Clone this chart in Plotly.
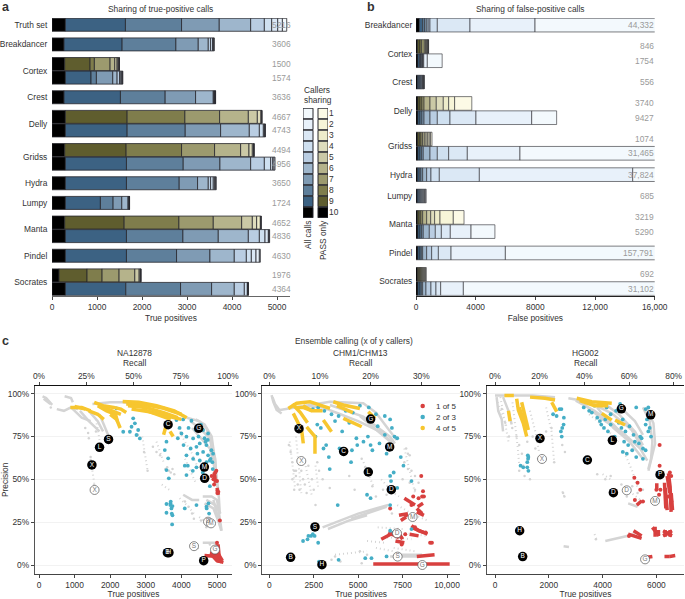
import plotly.graph_objects as go

W, H = 685, 599
FONT = "Liberation Sans"
FS = 8.4
TXT = "#333333"
GRAYTXT = "#9a9a9a"

levels = [10, 9, 8, 7, 6, 5, 4, 3, 2, 1]
blue_palette = ["#000000", "#3c6283", "#5e7f9b", "#7f9bb4", "#9eb6cc", "#b9cde2", "#cfe0f0", "#dbe8f5", "#e8f1fa", "#f3f9fd"]
olive_palette = ["#000000", "#5f5d2e", "#7f7d4c", "#9c9a6e", "#b5b38b", "#cbc9a6", "#dedcbc", "#eeecca", "#f7f5d8", "#fcfae6"]

# Panel a: cumulative true positives by callers sharing (10 .. 1)
a_truth_all = [297, 1632, 2879, 3717, 4415, 4719, 4882, 5016, 5120, 5216]
a_breakdancer_all = [267, 1558, 2753, 3250, 3473, 3525, 3570, 3585, 3595, 3606]
a_cortex_pass = [282, 846, 942, 1291, 1395, 1447, 1470, 1485, 1495, 1500]
a_cortex_all = [297, 868, 987, 1350, 1447, 1500, 1530, 1550, 1565, 1574]
a_crest_all = [267, 1521, 2515, 3191, 3584, 3600, 3615, 3625, 3630, 3636]
a_delly_pass = [297, 1670, 2953, 3725, 4363, 4563, 4645, 4655, 4662, 4667]
a_delly_all = [297, 1670, 2961, 3747, 4385, 4608, 4697, 4720, 4735, 4743]
a_gridss_pass = [282, 1647, 2879, 3613, 4192, 4378, 4452, 4480, 4488, 4494]
a_gridss_all = [297, 1655, 2916, 3732, 4415, 4719, 4860, 4905, 4935, 4956]
a_hydra_all = [297, 1655, 2827, 3235, 3473, 3525, 3584, 3610, 3635, 3650]
a_lumpy_all = [297, 1076, 1358, 1551, 1690, 1710, 1718, 1720, 1722, 1724]
a_manta_pass = [282, 1603, 2820, 3584, 4215, 4452, 4548, 4630, 4645, 4652]
a_manta_all = [297, 1655, 2909, 3695, 4363, 4608, 4734, 4808, 4825, 4836]
a_pindel_all = [297, 1655, 2768, 3510, 4051, 4319, 4430, 4534, 4608, 4630]
a_socrates_pass = [156, 779, 1113, 1491, 1840, 1937, 1960, 1970, 1973, 1976]
a_socrates_all = [297, 1640, 2857, 3547, 4051, 4274, 4341, 4355, 4360, 4364]

# Panel b: cumulative false positives by callers sharing (10 .. 1)
b_breakdancer_all = [223, 447, 570, 693, 820, 939, 1430, 3620, 7979, 44332]
b_cortex_pass = [110, 268, 380, 560, 640, 700, 760, 800, 830, 846]
b_cortex_all = [130, 250, 300, 350, 400, 440, 480, 520, 760, 1754]
b_crest_all = [100, 190, 260, 330, 390, 440, 480, 515, 540, 556]
b_delly_pass = [130, 270, 400, 540, 940, 1360, 1830, 2190, 2590, 3740]
b_delly_all = [130, 270, 400, 540, 940, 1430, 2280, 4020, 7755, 9427]
b_gridss_pass = [120, 240, 340, 440, 560, 680, 790, 890, 980, 1074]
b_gridss_all = [130, 270, 380, 490, 940, 1430, 2190, 3440, 6970, 31465]
b_hydra_all = [110, 223, 330, 447, 715, 1005, 1564, 4246, 14527, 37824]
b_lumpy_all = [70, 140, 220, 290, 360, 430, 500, 570, 630, 685]
b_manta_pass = [110, 220, 330, 447, 715, 985, 1250, 1610, 2500, 3219]
b_manta_all = [130, 270, 380, 490, 894, 1296, 1700, 2300, 3690, 5290]
b_pindel_all = [130, 270, 360, 447, 715, 1050, 1500, 2350, 5990, 157791]
b_socrates_pass = [100, 190, 260, 330, 390, 450, 510, 570, 640, 692]
b_socrates_all = [130, 270, 360, 447, 670, 1005, 1340, 1654, 3174, 31102]

groups_a = [
    ("Truth set", [("all", a_truth_all)]),
    ("Breakdancer", [("all", a_breakdancer_all)]),
    ("Cortex", [("pass", a_cortex_pass), ("all", a_cortex_all)]),
    ("Crest", [("all", a_crest_all)]),
    ("Delly", [("pass", a_delly_pass), ("all", a_delly_all)]),
    ("Gridss", [("pass", a_gridss_pass), ("all", a_gridss_all)]),
    ("Hydra", [("all", a_hydra_all)]),
    ("Lumpy", [("all", a_lumpy_all)]),
    ("Manta", [("pass", a_manta_pass), ("all", a_manta_all)]),
    ("Pindel", [("all", a_pindel_all)]),
    ("Socrates", [("pass", a_socrates_pass), ("all", a_socrates_all)]),
]
groups_b = [
    ("Breakdancer", [("all", b_breakdancer_all)]),
    ("Cortex", [("pass", b_cortex_pass), ("all", b_cortex_all)]),
    ("Crest", [("all", b_crest_all)]),
    ("Delly", [("pass", b_delly_pass), ("all", b_delly_all)]),
    ("Gridss", [("pass", b_gridss_pass), ("all", b_gridss_all)]),
    ("Hydra", [("all", b_hydra_all)]),
    ("Lumpy", [("all", b_lumpy_all)]),
    ("Manta", [("pass", b_manta_pass), ("all", b_manta_all)]),
    ("Pindel", [("all", b_pindel_all)]),
    ("Socrates", [("pass", b_socrates_pass), ("all", b_socrates_all)]),
]

# Panel c: (true positives, precision %); None separates strands of calls
# NA12878
na_gray_band_x = [100, 200, 370, None, 130, 320, None, 720, 900, 950, None, 500, 700, 900, 1100, None, 900, 1200, 1450, None, 1150, 1400, 1700, None, 1400, 1650, 1800, None, 1700, 1850, 1980, None,
                  1500, 2000, 2350, 2700, None, 4150, 4500, 4700, 4820, 4900, 4960, None, 4400, 4650, 4850, 4950, 5000, 5050, 5080, None, 4250, 4500, 4800, 4950, 4990, None,
                  4050, 4300, 4500, None, 4600, 4850, 5000, 5100, 5130, None, 4650, 4900, 5050, 5120, None, 4900, 5000, 5100, None, 4600, 4950, None, 4700, 4950, 5100, None, 4300, 4800, 4950, 5050]
na_gray_band_y = [98.5, 97.5, 93.5, None, 97, 94, None, 98.5, 97.5, 95, None, 91, 90, 92, 91, None, 92, 86, 84, None, 90, 84, 78, None, 90, 84, 78, None, 88, 80, 74, None,
                  94, 95, 95, 94, None, 86, 84, 80, 72, 62, 52, None, 85, 82, 75, 60, 48, 40, 30, None, 84, 80, 74, 62, 48, None,
                  41, 38, 38, None, 40, 40, 38, 25, 20, None, 36, 33, 25, 20, None, 38, 30, 22, None, 13, 13, None, 38, 35, 30, None, 80, 68, 55, 42]
na_gray_sparse_x = [1450, 1550, None, 1600, 1650, 1700, None, 2900, 3050, None, 3300, 3500, None, 3450, 3600, 3720, None, 3900, 4100, 4300, 4500, None, 4100, 4400, None, 3950, 4200, 4350, None, 4300, 4500, None, 4500, 4700, 4800]
na_gray_sparse_y = [62, 48, None, 85, 80, 73, None, 75, 55, None, 72, 60, None, 47, 45, 43, None, 80, 72, 65, 55, None, 62, 48, None, 39, 34, 30, None, 13, 9, None, 28, 25, 22]
na_gray_dots_x = [330, 1450, 1550, 1450, 1600, 2780, 2950, 3050, 3550, 3700, 3300, 3200, 3400, 4100, 4200, 4300, 4350, 4550, 4700, 4800, 3600, 3650, 3750, 3800, 1400, 1300, 1380]
na_gray_dots_y = [92, 63, 47, 61, 78, 76, 66, 55, 56, 54, 66, 69, 64, 37, 34, 30, 27, 26, 22, 12, 57, 55, 56, 53, 74, 80, 77]
na_yellow_band_x = [880, 1200, 1450, None, 1000, 1300, None, 1400, 1650, 1820, None, 1550, 1800, 2100, 2300, 2450, None, 1650, 1900, 2150, 2200, None, 1750, 2050, 2300, None, 2000, 2180, 2280, None,
                    2350, 2800, 3300, 3800, 4150, None, 2450, 3000, 3500, 4000, None, 2500, 3000, 3500, 3900, None, 2600, 3100, 3600, 4000, None, 2900, 3300, 3700, None, 3500, 3580, None, 3680, 3770]
na_yellow_band_y = [92, 92, 90, None, 92.5, 91, None, 90, 88, 85, None, 95, 93, 92, 91, 89, None, 93, 90, 88, 84, None, 92.5, 90, 88, None, 88, 85, 80, None,
                    95.5, 95, 93, 90, 86, None, 94, 93.5, 91.5, 88, None, 93, 92, 89, 86, None, 91, 89.5, 87, 85, None, 91, 88, 85, None, 76, 82, None, 78, 75]
na_blue_x = [2178, 2646, 2693, 2600, 2786, 2553, 2740, 2833, 2366, 3581, 3534, 3628, 3581, 3647, 3581, 3693, 3749, 3581, 3749, 3740, 4095, 4423, 4703, 4778,
             3862, 4049, 4282, 4610, 4750, 4002, 4142, 4329, 4516, 4703, 4843, 4423, 4610, 4750, 4890, 4142, 4329, 4516, 4797, 4095, 4423, 4703, 4142,
             3950, 4200, 4400, 4650, 4550, 4680, 4820, 4260, 4480, 4740, 4450, 4870, 4320, 4600, 4880, 4060, 3900, 4180, 3720, 4710, 4760, 4800, 3700, 3690, 3730]
na_blue_y = [91.4, 85.6, 82.7, 80.7, 78.8, 77.8, 75.9, 73.9, 77.8, 72, 67.1, 62.3, 55.4, 50.6, 35.6, 36, 34.4, 30.5, 29, 23.7, 33, 35, 34, 30,
             84.6, 85, 84.2, 78.8, 76.8, 76.8, 74.9, 73.9, 71, 70, 67, 69, 66, 64, 65, 64, 62, 61, 61, 58, 57, 60, 52.5,
             80, 80, 79, 74, 82, 72, 62, 68, 75, 73, 65, 60, 55, 54, 56, 70, 74, 58, 33, 33, 36, 46, 37, 35, 30]
na_red_band_x = [4650, 4900, 5020, None, 4950, 5000, None, 5000, 5030, None, 5030, 5060, None, 4850, 5000, 5180, None, 4800, 5050, 5150, None, 4880, 4960, 5110, None, 4970, 5060, 5130, None, 4950, 5020, 5110, None, 4890, 4980, None, 4920, 4960, None, 4990, 5060, None, 5000, 5040]
na_red_band_y = [5.5, 5.5, 5, None, 11, 4, None, 12, 3, None, 12, 5, None, 6, 2.5, 1.5, None, 7, 6, 2.5, None, 8, 7, 2, None, 9, 4, 1.5, None, 6, 2.5, 2, None, 52, 52, None, 54, 48, None, 44, 42, None, 45, 41]
na_red_x = [4950, 4900, 5000, 4920, 4850, 4980, 5010, 5080, 5000, 4900]
na_red_y = [54, 50, 49, 47, 52, 55, 42, 26, 13, 6]

# CHM1/CHM13
chm_gray_band_x = [130, 225, 413, 694, None, 180, 320, 600, None, 600, 1163, 2200, 3414, 5290, 6000, 6600, 7166, None, 3414, 5290, 6791, 7072, None, 2000, 3000, 4000, 5000, 6200, 7000, None,
                   3000, 4000, 5000, 6000, 6700, None, 3300, 4500, 5500, None, 4600, 5700, 6600, None, 6800, 7600, 8400, None, 7000, 7800, 8600, None, 5100, 6000, 6800]
chm_gray_band_y = [99.2, 95.3, 90.5, 88.5, None, 98, 94, 90, None, 90.5, 91.4, 93, 95.3, 94.4, 89, 80.7, 73, None, 93.4, 86.6, 74.9, 71, None, 93, 92, 88, 84, 78, 71, None,
                   22, 26, 30, 33, 35, None, 21, 26, 29, None, 27, 31, 34, None, 5, 5, 5, None, 6, 6, 6, None, 87, 79, 72]
chm_gray_sparse_x = [1150, 1300, 1450, None, 1500, 1650, 1800, None, 2000, 2200, 2400, None, 2600, 2750, None, 3700, 5500, None, 5300, 5900, None, 6300, 7000, 7300, None, 7600, 8000, 8200, None, 6100, 7500, None, 5500, 6500, None, 7400, 8800, None, 6000, 7000, None, 6400, 7100, 8000, None, 7000, 7600, 8200, None, 7200, 8000, 8900]
chm_gray_sparse_y = [72, 60, 45, None, 75, 60, 42, None, 60, 50, 40, None, 58, 45, None, 6, 8, None, 60, 45, None, 50, 42, 40, None, 68, 50, 42, None, 22, 21, None, 14, 13, None, 19, 17, None, 10, 8, None, 16, 16, 15, None, 10, 9, 8, None, 35, 30, 26]
chm_gray_dots_x = [1100, 1200, 1300, 1400, 1500, 1600, 1700, 1500, 1300, 1400, 1800, 1900, 2000, 2100, 2200, 2400, 2500, 2600, 2700, 2800, 3000, 3400, 4100, 4500, 4800, 5200, 5400, 5800, 6000, 6400, 6600, 7500, 7800, 7900, 8000, 8200, 8400, 8200, 3700, 3500, 4000, 5200, 5500, 5100, 7700, 7800, 7600, 7900, 6900]
chm_gray_dots_y = [70, 66, 60, 55, 52, 47, 44, 55, 50, 44, 55, 50, 47, 42, 58, 50, 44, 35, 60, 55, 50, 45, 68, 52, 44, 62, 57, 46, 40, 44, 41, 50, 56, 64, 55, 52, 48, 44, 5, 3, 2, 1, 6, 8, 68, 65, 60, 48, 30]
chm_yellow_band_x = [1070, 1540, 2290, 3414, None, 1350, 1820, 1913, None, 2100, 2570, 2570, None, 1300, 1750, 2150, None, 3600, 4165, 5100, None, 3800, 4300, 4700, None, 4165, 4730, 5200, None, 3040, 3500, None, 5570, 5950, None, 1900, 2400, 3000, None, 1500, 1900, 2400]
chm_yellow_band_y = [91.4, 94.4, 95.3, 91.4, None, 88.5, 78.8, 71, None, 80.7, 75, 65, None, 94, 89, 83, None, 95.3, 93.4, 91.4, None, 93, 91, 89, None, 85.6, 82.7, 80.7, None, 84.6, 77.8, None, 89.5, 85.6, None, 93, 90, 90, None, 92, 92, 90]
chm_blue_x = [2450, 2750, 3100, 3500, 3900, 4300, 4700, 5100, 5600, 6000, 6500, 6800, 7050, 2700, 2900, 3200, 3700, 4100, 4500, 4900, 5300, 5700, 6100, 6500, 6900, 7200,
              2600, 3050, 3350, 3950, 4250, 4650, 4950, 5550, 5800, 6200, 6600, 7400, 7550, 7000, 3400, 4600, 6800, 6850, 7200, 8000, 5500, 5700, 3850, 6800, 1900, 2150, 2200, 2350, 2450, 2550, 2750, 2800, 3900, 5400, 5750, 6600, 6800, 7000, 8000]
chm_blue_y = [91, 92, 90, 88, 87, 90, 89, 93, 92, 88, 87, 85, 75, 82, 80, 70, 84, 78, 83, 74, 72, 70, 81, 76, 80, 74,
              75, 68, 63, 68, 66, 67, 70, 75, 67, 71, 65, 63, 58, 54, 56, 60, 52, 49, 45, 49, 41, 39, 35, 35, 14, 15, 17, 17, 18, 17, 13, 2, 3, 4, 4, 5, 20, 19, 21]
chm_red_band_x = [5850, 6500, 7200, 8000, 8800, 9500, 10150, None, 8300, 8800, 9300, None, 6300, 6700, 7200, 7500, None, 6700, 7300, None, 7100, 7600, None, 8000, 8400, 8700, None, 7900, 8400, None, 8000, 8500, 8900, None, 7300, 7800, None, 7400, 7700, None, 8300, 8700, None, 8300, 8600, None, 7600, 8200, None, 8350, 8650]
chm_red_band_y = [0.6, 0.6, 0.7, 0.9, 1, 0.8, 0.6, None, 5, 5.5, 6, None, 15, 17, 20, 15, None, 19, 16, None, 14, 13, None, 23, 20, 19, None, 18, 17, None, 22, 20, 18, None, 29, 30, None, 26, 28, None, 31, 29, None, 33, 30, None, 39, 35, None, 34, 36]
chm_red_x = [8650, 8550, 8600, 8700, 8400, 8100, 8000, 9050, 9150, 7450, 7300, 6800, 7650, 8200, 8800, 7700]
chm_red_y = [43, 52, 40, 40, 39, 40, 35, 13, 13, 12, 18, 33, 18, 22, 19, 29]

# HG002
hg_gray_band_x = [0, 600, 1400, 2232, None, 60, 120, 250, 300, None, 300, 500, 620, None, 2728, 3472, 4340, 5084, 5456, None, 3000, 3700, 4400, 5000, None, 3300, 4000, 4700, 5400, 5660, None, 4000, 4600, 5200, 5500, None, 3800, 4400, 5000, 5500, None, 4800, 5200, 5500, None, 5642, 5890, 5952, 5704, None, 5500, 5750, 5850, 5800, 5700, None, 4100, 4700, 5200, None, 2550, 2750, None, 4950, 5300]
hg_gray_band_y = [99, 99, 99, 98, None, 98, 90, 85, 78, None, 98, 90, 82, None, 97.3, 95.3, 88.5, 78.8, 69, None, 96, 90, 82, 72, None, 94, 85, 78, 68, 61, None, 95, 88, 78, 70, None, 92, 80, 72, 62, None, 90, 84, 76, None, 91.4, 82.7, 71, 55, None, 92, 84, 72, 62, 56, None, 14, 16, 18, None, 11, 10.5, None, 36, 34]
hg_gray_sparse_x = [100, 250, 450, None, 200, 350, 500, None, 650, 750, 850, 900, None, 1300, 1500, 1650, None, 1900, 2100, 2200, None, 3700, 3800, None, 2500, 2580, None, 5000, 5400, None, 4800, 5100, 5300, None, 4000, 4300, None, 3500, 4100, 4600]
hg_gray_sparse_y = [95, 88, 80, None, 98, 85, 72, None, 95, 82, 68, 58, None, 90, 78, 65, None, 92, 78, 60, None, 18, 14, None, 43, 40, None, 43, 38, None, 66, 55, 45, None, 53, 50, None, 88, 80, 72]
hg_gray_dots_x = [250, 380, 520, 640, 800, 900, 1000, 1050, 1200, 1400, 1500, 1600, 1750, 1900, 2100, 2200, 2500, 2600, 3800, 4100, 4300, 4700, 4900, 5100, 5300, 5500, 2530, 2580, 3750, 900, 1100, 1300]
hg_gray_dots_y = [91, 83, 75, 80, 75, 70, 65, 58, 72, 75, 68, 62, 60, 78, 80, 60, 70, 66, 53, 50, 52, 47, 40, 46, 42, 44, 42, 40, 15, 55, 52, 50]
hg_yellow_band_x = [350, 700, None, 806, 868, 1054, 1178, None, 992, 1116, 1240, None, 900, 1050, 1180, None, 500, 560, None, 1302, 1860, 2232, None, 2108, 2294, None, 3038, 3596, 4340, None, 3150, 3700, 4200, None, 3968, 4340, None, 4464, 4836]
hg_yellow_band_y = [99, 99, None, 97, 90.5, 82.7, 75, None, 95, 86.6, 78.8, None, 92, 85, 79, None, 90, 84, None, 98, 97.3, 96.3, None, 95, 89.5, None, 97.3, 95.3, 94.4, None, 96, 93, 93, None, 88.5, 84.6, None, 84.6, 81.7]
hg_blue_x = [950, 1050, 1200, 1240, 1200, 1220, 1230, 1240, 2400, 2470, 2160, 2560, 2550, 2500, 2450, 2480, 2290, 3500, 3700, 3800, 3950, 4050, 4150, 4300, 4500, 4650, 4750, 4850, 5000, 5150, 5250, 5400, 5350, 5450, 3600, 3900, 4100, 4200, 4450, 4600, 4800, 4950, 5100, 5200, 5500, 5600, 5650, 5700, 5750, 5800, 5600, 5700, 5600, 4750, 4900, 4700, 5250, 5500, 3300, 4300]
hg_blue_y = [58, 57, 57, 63, 60, 64, 62, 55, 91, 91, 88, 86, 82, 80, 78, 75, 87, 90, 93, 86, 82, 80, 92, 88, 90, 94, 85, 78, 81, 76, 92, 75, 71, 74, 89, 84, 85, 78, 75, 83, 72, 70, 67, 72, 68, 91, 85, 92, 80, 75, 82, 78, 67, 66, 65, 80, 63, 62, 92, 82]
hg_red_band_x = [6448, 6510, 6547, None, 6330, 6400, None, 6300, 6350, None, 6550, 6600, None, 6400, 6500, None, 6014, 6014, None, 5270, 5456, None, 5850, 6100, None, 5952, 5952, None, 6076, 6076, None, 6250, 6580, None, 6250, 6580, None, 6324, 6324, None, 6510, 6510, None, 4950, 5450, None, 5150, 5450, None, 5660, 5850, None, 6300, 6500, None, 6500, 6700]
hg_red_band_y = [53.5, 45.7, 31, None, 45, 32, None, 48, 33, None, 42, 32, None, 52, 42, None, 47.7, 43.8, None, 35, 37.5, None, 22, 17, None, 22.4, 16.5, None, 20.5, 17, None, 20, 17, None, 17, 20, None, 20.4, 16.5, None, 20.4, 16.5, None, 18, 15.5, None, 20, 17, None, 4.5, 5, None, 5, 5, None, 5, 5.5]
hg_red_x = [6120, 6550, 6500, 6120, 6560, 6450, 5300, 5180, 5400, 6000, 6150, 6100, 4980, 5500, 5200]
hg_red_y = [70, 52, 54, 58, 37, 40, 48, 51, 44, 44, 44, 41, 17, 37, 38]

# Caller labels: (x, precision, letter); filled = PASS only, open = all calls
na_pass_labels = ["C", "G", "S", "L", "X", "M", "D", "B", "H", "P"]
na_pass_x = [3626, 4486, 1953, 1701, 1486, 4645, 4654, 3606, 3650, 4626]
na_pass_y = [81.9, 79.8, 73.3, 68.7, 58.4, 57.2, 50.6, 7.2, 7.2, 2.5]
na_all_labels = ["X", "D", "M", "S", "G"]
na_all_x = [1561, 4748, 4832, 4355, 4944]
na_all_y = [43.8, 25.3, 24.3, 11, 9]
chm_pass_labels = ["G", "X", "M", "C", "L", "D", "S", "B", "H"]
chm_pass_x = [5704, 1670, 6773, 4184, 5572, 6867, 2570, 1200, 2964]
chm_pass_y = [85.2, 79.6, 68.9, 66.3, 54.3, 44, 22.2, 4.5, 0.2]
chm_all_labels = ["X", "M", "D", "S", "G"]
chm_all_x = [1801, 8068, 7186, 7223, 8612]
chm_all_y = [60.7, 28, 18.5, 4.9, 0]
hg_pass_labels = ["G", "M", "X", "L", "C", "P", "D", "H", "B"]
hg_pass_x = [4698, 5789, 1673, 4364, 3434, 6136, 4401, 917, 1029]
hg_pass_y = [91.2, 87.7, 73.9, 72.8, 61.3, 52.7, 42.2, 20, 4.9]
hg_all_labels = ["X", "D", "M", "G"]
hg_all_x = [1748, 4897, 5950, 5579]
hg_all_y = [61.9, 43.6, 37.4, 3.3]

GRAY, RED, BLUE, YELLOW = "#d4d4d4", "#d8403f", "#45aec6", "#f7c62f"


def px_x(p):
    return p / W


def px_y(p):
    return 1 - p / H


fig = go.Figure()
layout = dict(width=W, height=H, margin=dict(l=0, r=0, t=0, b=0), autosize=False,
              paper_bgcolor="white", plot_bgcolor="white", showlegend=False,
              barmode="overlay", font=dict(family=FONT, size=FS, color=TXT),
              hovermode=False, template="none")
annotations = []


def text(x, y, s, size=FS, color=TXT, anchor="center", bold=False, angle=0):
    annotations.append(dict(xref="paper", yref="paper", x=px_x(x), y=px_y(y), text=f"<b>{s}</b>" if bold else s,
                            showarrow=False, font=dict(size=size, color=color, family=FONT),
                            xanchor=anchor, yanchor="middle", textangle=angle, align=anchor))


def stacked(groups, x_name, y_name, gap, label_px, lw):
    pos = 0
    rows, names, centers = [], [], []
    for name, bars in groups:
        start = pos
        for kind, cum in bars:
            rows.append((pos + 0.5, kind, cum))
            pos += 1
        centers.append((start + pos) / 2)
        names.append(name)
        pos += gap
    pos -= gap
    for i in range(10):
        base = [r[2][i - 1] if i else 0 for r in rows]
        width = [r[2][i] - b for r, b in zip(rows, base)]
        col = [(blue_palette if r[1] == "all" else olive_palette)[i] for r in rows]
        fig.add_trace(go.Bar(orientation="h", y=[r[0] for r in rows], x=width, base=base, width=0.96,
                             marker=dict(color=col, line=dict(color="#26262c", width=lw)),
                             xaxis=x_name, yaxis=y_name))
    for r in rows:
        total = r[2][-1]
        annotations.append(dict(xref="paper", yref=y_name, x=px_x(label_px), y=r[0],
                                text=f"{total:,}" if total >= 10000 else str(total), showarrow=False,
                                xanchor="right", yanchor="middle", font=dict(size=FS, color=GRAYTXT, family=FONT)))
    return pos, centers, names


# Panel a
tot, centers, names = stacked(groups_a, "x", "y", 0.45, 292.5, 0.8)
layout["xaxis"] = dict(domain=[px_x(52), px_x(290)], range=[0, 5289], tickvals=[0, 1000, 2000, 3000, 4000, 5000],
                       showgrid=False, zeroline=False, showline=True, linecolor="#666666", linewidth=1.2,
                       ticks="outside", ticklen=3, tickcolor="#444444", anchor="y",
                       title=dict(text="True positives", font=dict(size=FS), standoff=4))
layout["yaxis"] = dict(domain=[px_y(295.7), px_y(18)], range=[tot, 0], tickvals=centers, ticktext=names,
                       showgrid=False, zeroline=False, showline=False, ticks="outside", ticklen=2,
                       tickcolor="rgba(0,0,0,0)", anchor="x")

# Panel b
tot_b, centers_b, names_b = stacked(groups_b, "x2", "y2", 0.5, 656, 0.6)
layout["xaxis2"] = dict(domain=[px_x(416), px_x(654.7)], range=[0, 16000], tickvals=[0, 4000, 8000, 12000, 16000],
                        ticktext=["0", "4000", "8000", "12,000", "16,000"], showgrid=False, zeroline=False,
                        showline=True, linecolor="#222222", linewidth=1, ticks="outside", ticklen=3,
                        tickcolor="#444444", anchor="y2",
                        title=dict(text="False positives", font=dict(size=FS), standoff=4))
layout["yaxis2"] = dict(domain=[px_y(295.7), px_y(18)], range=[tot_b, 0], tickvals=centers_b, ticktext=names_b,
                        showgrid=False, zeroline=False, showline=False, ticks="outside", ticklen=1,
                        tickcolor="rgba(0,0,0,0)", anchor="x2")

# Legend swatches (panel a)
fig.add_trace(go.Bar(orientation="h", y=levels[::-1], x=[1] * 10, base=[0] * 10, width=0.96,
                     marker=dict(color=blue_palette[::-1], line=dict(color="#26262c", width=1)), xaxis="x3", yaxis="y3"))
fig.add_trace(go.Bar(orientation="h", y=levels[::-1], x=[1] * 10, base=[1.5] * 10, width=0.96,
                     marker=dict(color=olive_palette[::-1], line=dict(color="#26262c", width=1)), xaxis="x3", yaxis="y3"))
layout["xaxis3"] = dict(domain=[px_x(303), px_x(328)], range=[0, 2.5], tickvals=[0.5, 2], ticktext=["All calls", "PASS only"],
                        tickangle=-90, showgrid=False, zeroline=False, showline=False, ticks="", anchor="y3")
layout["yaxis3"] = dict(domain=[px_y(218), px_y(108)], range=[10.5, 0.5], tickvals=levels, side="right",
                        showgrid=False, zeroline=False, showline=False, ticks="", anchor="x3")
text(302, 90, "Callers", anchor="left")
text(302, 100, "sharing", anchor="left")


def scatter_panel(n, left, right, zero, per, recall_full, recall_ticks, tpticks, tptext, title, title_px, data):
    xn, yn, tn = f"x{n}", f"y{n}", f"x{n+1}"
    xmin = (left - zero) / per
    xmax = (right - zero) / per
    gray_b, gray_s, gray_d, yellow_b, blue_p, red_b, red_p, pass_l, all_l = data
    tr = dict(xaxis=xn, yaxis=yn)
    fig.add_trace(go.Scatter(x=gray_b[0], y=gray_b[1], mode="lines", line=dict(color=GRAY, width=2.5), **tr))
    fig.add_trace(go.Scatter(x=gray_s[0], y=gray_s[1], mode="lines", line=dict(color=GRAY, width=2, dash="1px,3px"), **tr))
    fig.add_trace(go.Scatter(x=gray_d[0], y=gray_d[1], mode="markers", marker=dict(color=GRAY, size=2.5), **tr))
    fig.add_trace(go.Scatter(x=red_b[0], y=red_b[1], mode="lines", line=dict(color=RED, width=3.5), **tr))
    fig.add_trace(go.Scatter(x=red_p[0], y=red_p[1], mode="markers", marker=dict(color=RED, size=4), **tr))
    fig.add_trace(go.Scatter(x=blue_p[0], y=blue_p[1], mode="markers", marker=dict(color=BLUE, size=3.8), **tr))
    fig.add_trace(go.Scatter(x=yellow_b[0], y=yellow_b[1], mode="lines", line=dict(color=YELLOW, width=3.5), **tr))
    fig.add_trace(go.Scatter(x=all_l[1], y=all_l[2], text=all_l[0], mode="markers+text", textposition="middle center",
                             textfont=dict(size=6.5, color="#777777", family=FONT),
                             marker=dict(color="white", size=9, line=dict(color="#555555", width=0.7)), **tr))
    fig.add_trace(go.Scatter(x=pass_l[1], y=pass_l[2], text=pass_l[0], mode="markers+text", textposition="middle center",
                             textfont=dict(size=6.5, color="white", family=FONT),
                             marker=dict(color="#000000", size=9.5), **tr))
    # Top recall axis carries the recall tick positions
    fig.add_trace(go.Scatter(x=recall_ticks, y=[None] * len(recall_ticks), mode="markers", xaxis=tn, yaxis=yn))
    xaxis = dict(domain=[px_x(left), px_x(right)], range=[xmin, xmax], tickvals=tpticks,
                 showgrid=False, zeroline=False, showline=True, linecolor="#444444", linewidth=1.2,
                 ticks="outside", ticklen=3, tickcolor="#444444", anchor=yn,
                 title=dict(text="True positives", font=dict(size=FS), standoff=4))
    if tptext:
        xaxis["ticktext"] = tptext
    layout[f"xaxis{n}"] = xaxis
    layout[f"xaxis{n+1}"] = dict(domain=[px_x(left), px_x(right)], range=[xmin / recall_full * 100, xmax / recall_full * 100],
                                 tickvals=recall_ticks, ticktext=[f"{t}%" for t in recall_ticks], overlaying=xn, side="top",
                                 showgrid=False, zeroline=False, showline=True, linecolor="#111111", linewidth=1,
                                 ticks="outside", ticklen=3, tickcolor="#444444", anchor=yn)
    layout[f"yaxis{n}"] = dict(domain=[px_y(573.7), px_y(386)], range=[-5.08, 104.5], tickvals=[0, 25, 50, 75, 100],
                               ticktext=["0%", "25%", "50%", "75%", "100%"], showgrid=True, gridcolor="#f2f2f2", gridwidth=1,
                               zeroline=False, showline=True, linecolor="#555555", linewidth=1.3, ticks="outside", ticklen=3,
                               tickcolor="#444444", anchor=xn)
    text(title_px, 353, title)
    text(title_px, 363, "Recall")


scatter_panel(4, 35, 232, 39, 0.0356, 5309, [0, 25, 50, 75, 100], [0, 1000, 2000, 3000, 4000, 5000], None, "NA12878", 134.7,
              ((na_gray_band_x, na_gray_band_y), (na_gray_sparse_x, na_gray_sparse_y), (na_gray_dots_x, na_gray_dots_y), (na_yellow_band_x, na_yellow_band_y),
               (na_blue_x, na_blue_y), (na_red_band_x, na_red_band_y), (na_red_x, na_red_y),
               (na_pass_labels, na_pass_x, na_pass_y), (na_all_labels, na_all_x, na_all_y)))
scatter_panel(6, 262.3, 460, 269.3, 0.01777, 28510, [0, 10, 20, 30], [0, 2500, 5000, 7500, 10000], ["0", "2500", "5000", "7500", "10,000"], "CHM1/CHM13", 361,
              ((chm_gray_band_x, chm_gray_band_y), (chm_gray_sparse_x, chm_gray_sparse_y), (chm_gray_dots_x, chm_gray_dots_y), (chm_yellow_band_x, chm_yellow_band_y),
               (chm_blue_x, chm_blue_y), (chm_red_band_x, chm_red_band_y), (chm_red_x, chm_red_y),
               (chm_pass_labels, chm_pass_x, chm_pass_y), (chm_all_labels, chm_all_x, chm_all_y)))
scatter_panel(8, 486.7, 684.3, 495, 0.0269, 8303, [0, 20, 40, 60, 80], [0, 2000, 4000, 6000], None, "HG002", 585.5,
              ((hg_gray_band_x, hg_gray_band_y), (hg_gray_sparse_x, hg_gray_sparse_y), (hg_gray_dots_x, hg_gray_dots_y), (hg_yellow_band_x, hg_yellow_band_y),
               (hg_blue_x, hg_blue_y), (hg_red_band_x, hg_red_band_y), (hg_red_x, hg_red_y),
               (hg_pass_labels, hg_pass_x, hg_pass_y), (hg_all_labels, hg_all_x, hg_all_y)))

layout["yaxis4"]["title"] = dict(text="Precision", font=dict(size=FS), standoff=5)

# In-plot key for the ensembles
key_names = ["1 of 5", "2 of 3", "4 of 5"]
key_colors = [RED, BLUE, YELLOW]
key_prec = [92.8, 86.4, 80]
fig.add_trace(go.Scatter(x=[8632] * 3, y=key_prec, mode="markers", marker=dict(color=key_colors, size=4.5), xaxis="x6", yaxis="y6"))
for nm, yy in zip(key_names, (406, 417, 428)):
    text(434, yy, nm, size=8, anchor="left")

text(354, 341, "Ensemble calling (x of y callers)")
text(160, 9, "Sharing of true-positive calls")
text(530, 9, "Sharing of false-positive calls")
text(0, 7, "a", size=12.5, bold=True, anchor="left")
text(365, 7, "b", size=12.5, bold=True, anchor="left")
text(0, 341, "c", size=12.5, bold=True, anchor="left")
layout["annotations"] = annotations
fig.update_layout(**layout)
fig.write_html("out.html", config={"displayModeBar": False},
               post_script="document.body.style.margin='0';document.body.style.overflow='hidden';")
